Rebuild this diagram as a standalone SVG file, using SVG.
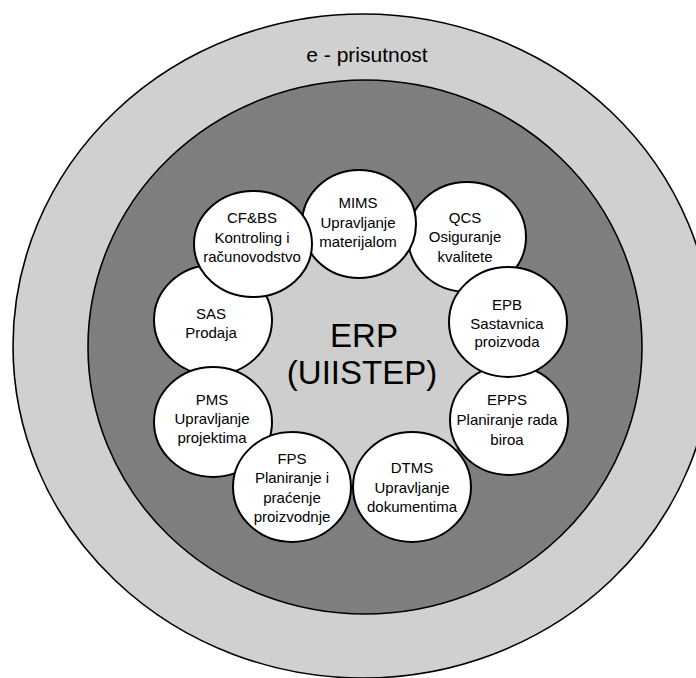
<svg xmlns="http://www.w3.org/2000/svg" width="696" height="678" viewBox="0 0 696 678">
  <defs>
    <!-- fine halftone texture for the dark ring -->
    <pattern id="dots" width="2" height="2" patternUnits="userSpaceOnUse">
      <rect width="2" height="2" fill="#838383"/>
      <rect width="1" height="1" fill="#7a7a7a"/>
      <rect x="1" y="1" width="1" height="1" fill="#7a7a7a"/>
    </pattern>
  </defs>
  <style>
    .ring { stroke: #000; stroke-width: 1.6; }
    .node ellipse { fill: #fff; stroke: #000; stroke-width: 2; }
    text { font-family: "Liberation Sans", Arial, sans-serif; fill: #000; text-anchor: middle; }
    .lbl { font-size: 15px; }
    .big { font-size: 33px; }
    .title { font-size: 21px; }
  </style>

  <rect width="696" height="678" fill="#fff"/>

  <!-- outer ring: e-presence -->
  <g id="e-prisutnost">
    <ellipse class="ring" cx="363" cy="346" rx="350" ry="332" fill="#d0d0d0"/>
    <text class="title" x="367" y="62">e - prisutnost</text>
  </g>

  <!-- middle ring -->
  <ellipse class="ring" cx="365" cy="347" rx="277" ry="267" fill="url(#dots)"/>

  <!-- core: ERP -->
  <g id="erp">
    <circle cx="360" cy="350" r="138" fill="#cecece"/>
    <text class="big" x="364" y="347">ERP</text>
    <text class="big" x="362" y="384">(UIISTEP)</text>
  </g>

  <!-- modules around the core -->
  <g id="sas" class="node">
    <ellipse cx="213" cy="320" rx="59" ry="55"/>
    <text class="lbl" x="211" y="319">SAS</text>
    <text class="lbl" x="211" y="338">Prodaja</text>
  </g>
  <g id="pms" class="node">
    <ellipse cx="213" cy="422" rx="59" ry="55"/>
    <text class="lbl" x="212" y="405">PMS</text>
    <text class="lbl" x="212" y="424">Upravljanje</text>
    <text class="lbl" x="212" y="443">projektima</text>
  </g>
  <g id="fps" class="node">
    <ellipse cx="292" cy="487" rx="59" ry="55"/>
    <text class="lbl" x="292" y="464">FPS</text>
    <text class="lbl" x="292" y="483">Planiranje i</text>
    <text class="lbl" x="292" y="503">praćenje</text>
    <text class="lbl" x="292" y="522">proizvodnje</text>
  </g>
  <g id="dtms" class="node">
    <ellipse cx="412" cy="487" rx="59" ry="55"/>
    <text class="lbl" x="412" y="473">DTMS</text>
    <text class="lbl" x="412" y="493">Upravljanje</text>
    <text class="lbl" x="412" y="512">dokumentima</text>
  </g>
  <g id="epps" class="node">
    <ellipse cx="509" cy="420" rx="59" ry="55"/>
    <text class="lbl" x="507" y="405">EPPS</text>
    <text class="lbl" x="507" y="425">Planiranje rada</text>
    <text class="lbl" x="507" y="445">biroa</text>
  </g>
  <g id="qcs" class="node">
    <ellipse cx="467" cy="237" rx="59" ry="55"/>
    <text class="lbl" x="465" y="223">QCS</text>
    <text class="lbl" x="465" y="242">Osiguranje</text>
    <text class="lbl" x="465" y="262">kvalitete</text>
  </g>
  <g id="epb" class="node">
    <ellipse cx="508" cy="322" rx="59" ry="55"/>
    <text class="lbl" x="507" y="310">EPB</text>
    <text class="lbl" x="507" y="329">Sastavnica</text>
    <text class="lbl" x="507" y="347">proizvoda</text>
  </g>
  <g id="mims" class="node">
    <ellipse cx="359" cy="224" rx="57" ry="54"/>
    <text class="lbl" x="358" y="208">MIMS</text>
    <text class="lbl" x="358" y="228">Upravljanje</text>
    <text class="lbl" x="358" y="247">materijalom</text>
  </g>
  <g id="cfbs" class="node">
    <ellipse cx="253" cy="244" rx="59" ry="53"/>
    <text class="lbl" x="252" y="223">CF&amp;BS</text>
    <text class="lbl" x="252" y="243">Kontroling i</text>
    <text class="lbl" x="252" y="262">računovodstvo</text>
  </g>

  <!-- no connectors in this diagram -->
  <g id="connectors"/>
</svg>
